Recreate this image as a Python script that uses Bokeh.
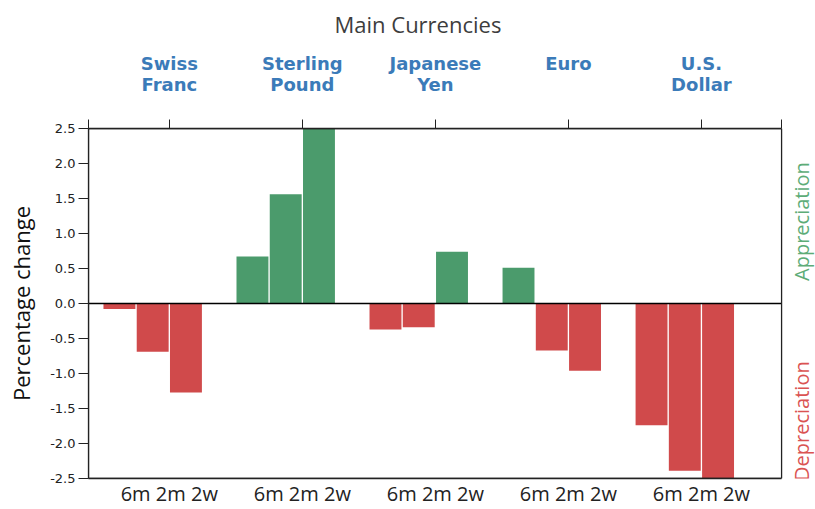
import math
from bokeh.plotting import figure
from bokeh.models import LinearAxis, FixedTicker, Range1d, Label, BoxAnnotation, PrintfTickFormatter
from bokeh.embed import file_html
from bokeh.resources import INLINE

currencies = ["Swiss\nFranc", "Sterling\nPound", "Japanese\nYen", "Euro", "U.S.\nDollar"]
horizons = ["6m", "2m", "2w"]
chg_6m = [-0.08, 0.67, -0.37, 0.51, -1.74]
chg_2m = [-0.69, 1.56, -0.34, -0.67, -2.39]
chg_2w = [-1.27, 2.55, 0.74, -0.96, -2.55]
y_ticks = [-2.5, -2.0, -1.5, -1.0, -0.5, 0.0, 0.5, 1.0, 1.5, 2.0, 2.5]

GREEN = "#4b9b6c"
RED = "#d04a4b"
BLUE = "#3b7bb9"
AXIS = "#222222"
X0, X1, X2 = -0.93, 19.91, 20.93
Y0, Y1 = -2.5, 2.5

xs, tops, colors = [], [], []
for i in range(len(currencies)):
    for j, series in enumerate([chg_6m, chg_2m, chg_2w]):
        v = series[i]
        xs.append(4 * i + j)
        tops.append(v)
        colors.append(GREEN if v >= 0 else RED)

group_ticks = [4 * i + 1.5 for i in range(len(currencies))]
top_labels = [c if "\n" in c else c + "\n " for c in currencies]

p = figure(width=815, height=509, x_range=Range1d(X0, X2), y_range=Range1d(Y0, Y1),
           output_backend="svg", toolbar_location=None, x_axis_location=None,
           min_border_left=88, min_border_right=0, min_border_top=128, min_border_bottom=10)

p.vbar(x=xs, top=tops, bottom=0, width=0.96, fill_color=colors, line_color=None)
p.segment(x0=[X0], y0=[0], x1=[X1], y1=[0], line_color="black", line_width=1.5)
p.add_layout(BoxAnnotation(left=X0, right=X1, bottom=Y0, top=Y1, fill_color=None, fill_alpha=0,
                           line_color=AXIS, line_alpha=1.0, line_width=1.3))

p.xgrid.visible = False
p.ygrid.visible = False
p.outline_line_color = None
p.background_fill_color = "white"
p.border_fill_color = "white"

p.title.text = "Main Currencies"
p.title.align = "left"
p.title.offset = 246
p.title.vertical_align = "top"
p.title.text_line_height = 1.0
p.title.text_font = "Open Sans"
p.title.text_font_size = "22px"
p.title.text_font_style = "normal"
p.title.text_color = "#3d3d3d"
p.title.standoff = 17

ya = p.yaxis[0]
ya.ticker = FixedTicker(ticks=y_ticks)
ya.formatter = PrintfTickFormatter(format="%.1f")
ya.major_tick_out = 10
ya.major_tick_in = 0
ya.minor_tick_line_color = None
ya.axis_line_color = AXIS
ya.axis_line_width = 1.3
ya.major_tick_line_color = AXIS
ya.major_label_text_font = "DejaVu Sans"
ya.major_label_text_font_size = "13px"
ya.major_label_text_color = AXIS
ya.major_label_standoff = 3
ya.axis_label = "Percentage change"
ya.axis_label_text_font = "Open Sans"
ya.axis_label_text_font_size = "22px"
ya.axis_label_text_font_style = "normal"
ya.axis_label_text_color = "#111111"
ya.axis_label_standoff = 11

top_ax = LinearAxis(ticker=FixedTicker(ticks=group_ticks + [X0, X1]), bounds=(X0, X1),
                    major_label_overrides={**{t: c for t, c in zip(group_ticks, top_labels)},
                                           X0: "", X1: ""})
top_ax.major_tick_out = 9
top_ax.major_tick_in = 0
top_ax.minor_tick_line_color = None
top_ax.axis_line_color = AXIS
top_ax.axis_line_width = 1.3
top_ax.major_tick_line_color = AXIS
top_ax.major_label_text_font = "DejaVu Sans"
top_ax.major_label_text_font_size = "18px"
top_ax.major_label_text_font_style = "bold"
top_ax.major_label_text_line_height = 1.0
top_ax.major_label_text_color = BLUE
top_ax.major_label_standoff = 25
p.add_layout(top_ax, "above")

bot_ax = LinearAxis(ticker=FixedTicker(ticks=group_ticks), bounds=(X0, X1),
                    major_label_overrides={t: " ".join(horizons) for t in group_ticks})
bot_ax.major_tick_out = 0
bot_ax.major_tick_in = 0
bot_ax.minor_tick_line_color = None
bot_ax.axis_line_color = AXIS
bot_ax.axis_line_width = 1.3
bot_ax.major_label_text_font = "Open Sans"
bot_ax.major_label_text_font_size = "20px"
bot_ax.major_label_text_color = AXIS
bot_ax.major_label_standoff = 1
p.add_layout(bot_ax, "below")

p.add_layout(Label(x=20.5, y=1.17, text="Appreciation", angle=math.pi / 2,
                   text_align="center", text_baseline="middle", text_font="Open Sans",
                   text_font_size="20px", text_color="#5dac77"))
p.add_layout(Label(x=20.5, y=-1.68, text="Depreciation", angle=math.pi / 2,
                   text_align="center", text_baseline="middle", text_font="Open Sans",
                   text_font_size="20px", text_color="#da5352"))

open("out.html", "w").write(file_html(p, INLINE))
